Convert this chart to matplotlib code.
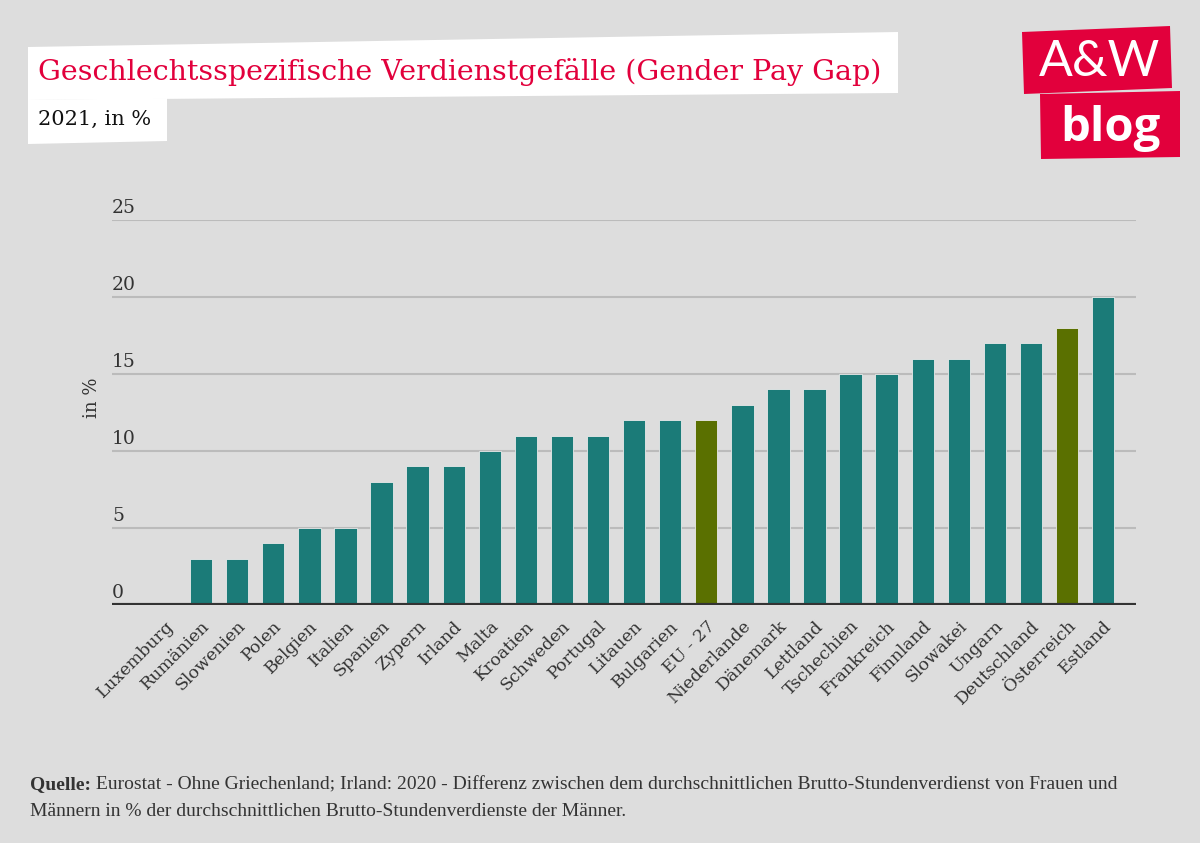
import matplotlib
matplotlib.use("Agg")
import matplotlib.pyplot as plt
from matplotlib.patches import Polygon

countries = ["Luxemburg", "Rumänien", "Slowenien", "Polen", "Belgien", "Italien",
             "Spanien", "Zypern", "Irland", "Malta", "Kroatien", "Schweden",
             "Portugal", "Litauen", "Bulgarien", "EU - 27", "Niederlande",
             "Dänemark", "Lettland", "Tschechien", "Frankreich", "Finnland",
             "Slowakei", "Ungarn", "Deutschland", "Österreich", "Estland"]
values = [0, 3, 3, 4, 5, 5, 8, 9, 9, 10, 11, 11, 11, 12, 12, 12, 13, 14, 14,
          15, 15, 16, 16, 17, 17, 18, 20]
highlight = ["EU - 27", "Österreich"]
yticks = [0, 5, 10, 15, 20, 25]

title = "Geschlechtsspezifische Verdienstgefälle (Gender Pay Gap)"
subtitle = "2021, in %"
ylabel = "in %"
source_bold = "Quelle:"
source_text = (" Eurostat - Ohne Griechenland; Irland: 2020 - Differenz zwischen dem durchschnittlichen "
               "Brutto-Stundenverdienst von Frauen und")
source_line2 = "Männern in % der durchschnittlichen Brutto-Stundenverdienste der Männer."

BG = "#dddddd"
TEAL = "#1b7b78"
OLIVE = "#5a7000"
RED = "#e2003c"
TXT = "#333333"
SERIF = ["DejaVu Serif"]

W, H = 1200, 843
fig = plt.figure(figsize=(W / 100, H / 100), dpi=100, facecolor=BG)


def px(x, y):
    return (x / W, 1 - y / H)


ax = fig.add_axes([112 / W, 1 - 605 / H, (1136 - 112) / W, (605 - 220) / H])
ax.set_facecolor(BG)
x = list(range(len(countries)))
colors = [OLIVE if c in highlight else TEAL for c in countries]
ax.bar(x, values, width=0.62, color=colors, edgecolor="#eaeaea", linewidth=0.6, zorder=3)
ax.set_xlim(-1.47, len(countries) - 1 + 0.91)
ax.set_ylim(0, 25)
for t in yticks:
    if t == 0:
        ax.axhline(0, color="#333333", lw=3, zorder=4)
    else:
        ax.axhline(t, color="#bbbbbb", lw=1.5, zorder=1)
    ax.text(0, t + 0.45, str(t), transform=ax.get_yaxis_transform(), ha="left", va="baseline",
            fontsize=13.5, color=TXT, family=SERIF)
for s in ax.spines.values():
    s.set_visible(False)
ax.set_yticks([])
ax.set_xticks(x)
ax.set_xticklabels(countries, rotation=45, ha="right", rotation_mode="anchor",
                   fontsize=12.5, color=TXT, family=SERIF)
ax.tick_params(axis="x", length=0, pad=9)
fig.text(92 / W, 1 - 398 / H, ylabel, rotation=90, ha="center", va="center",
         fontsize=13, color=TXT, family=SERIF)

# Title boxes
fig.patches.append(Polygon([px(28, 47), px(898, 32), px(898, 93), px(28, 100)],
                           closed=True, transform=fig.transFigure, facecolor="white",
                           edgecolor="none", zorder=0))
fig.patches.append(Polygon([px(28, 100), px(167, 98), px(167, 141), px(28, 144)],
                           closed=True, transform=fig.transFigure, facecolor="white",
                           edgecolor="none", zorder=0))
fig.text(38 / W, 1 - 72 / H, title, ha="left", va="center", fontsize=20.5, color=RED, family=SERIF)
fig.text(38 / W, 1 - 119 / H, subtitle, ha="left", va="center", fontsize=15, color="#111111",
         family=SERIF)

# Logo
fig.patches.append(Polygon([px(1022, 32), px(1170, 26), px(1172, 88), px(1024, 94)],
                           closed=True, transform=fig.transFigure, facecolor=RED,
                           edgecolor="none", zorder=0))
fig.patches.append(Polygon([px(1040, 94), px(1180, 91), px(1180, 157), px(1041, 159)],
                           closed=True, transform=fig.transFigure, facecolor=RED,
                           edgecolor="none", zorder=0))
fig.text(1099 / W, 1 - 62 / H, "A&W", ha="center", va="center", fontsize=36, color="white",
         family=["Lato"], fontweight="normal")
fig.text(1110 / W, 1 - 128 / H, "blog", ha="center", va="center", fontsize=34, color="white",
         family=["Open Sans"], fontweight="bold")

# Footer
FS = 14
t1 = fig.text(30 / W, 1 - 785 / H, source_bold, ha="left", va="center", fontsize=FS,
              color=TXT, family=["Liberation Serif"], fontweight="bold")
fig.canvas.draw()
bb = t1.get_window_extent()
fig.text(bb.x1 / W, 1 - 785 / H, source_text, ha="left", va="center", fontsize=FS,
         color=TXT, family=["Liberation Serif"])
fig.text(30 / W, 1 - 811 / H, source_line2, ha="left", va="center", fontsize=FS,
         color=TXT, family=["Liberation Serif"])

fig.savefig("out.png", dpi=100, facecolor=BG)
